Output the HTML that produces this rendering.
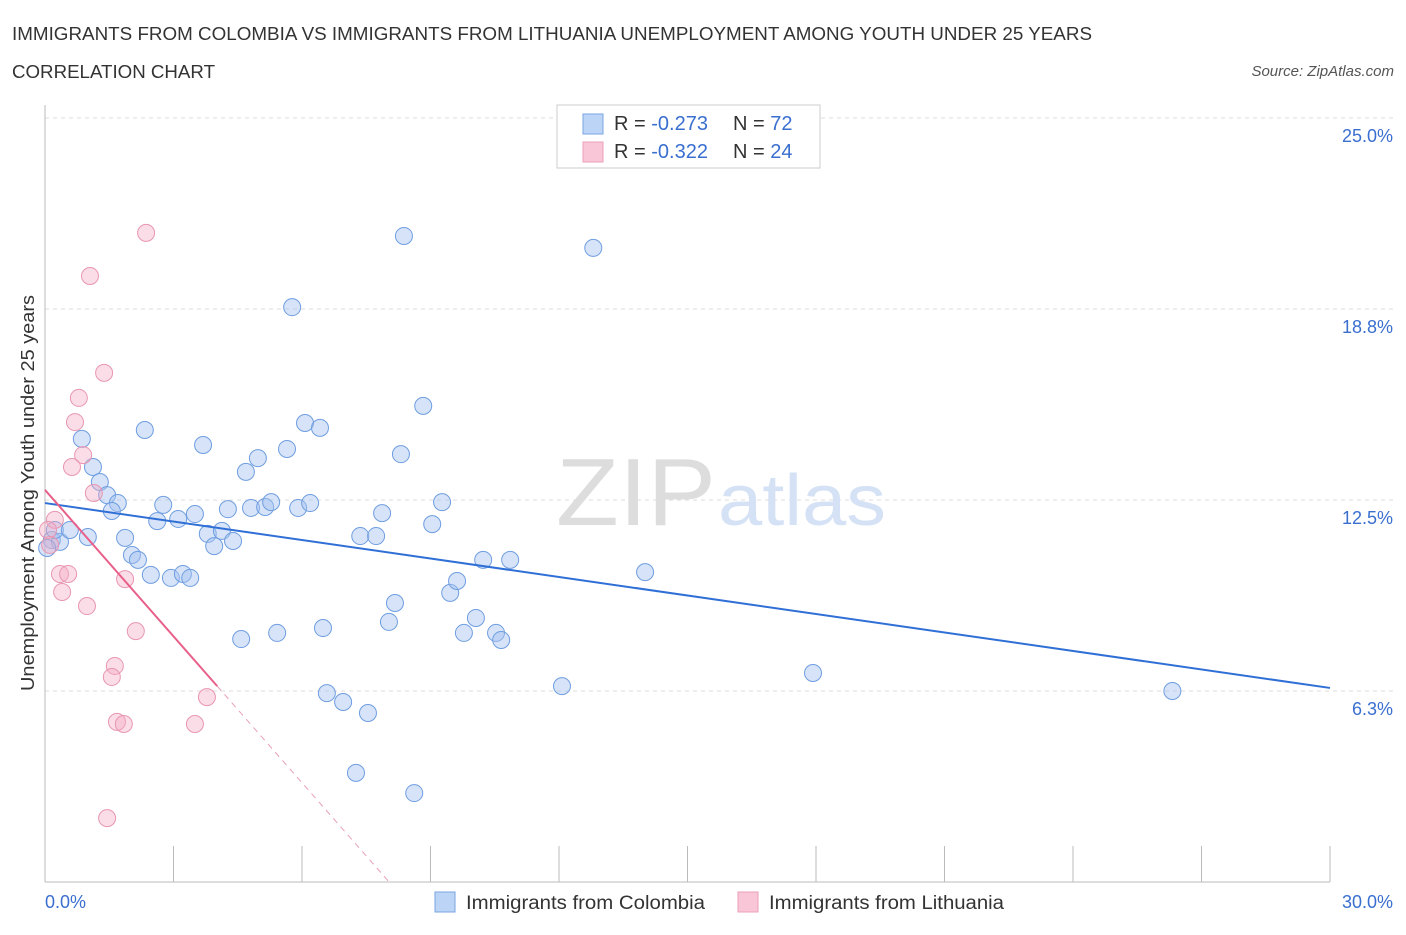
<!DOCTYPE html>
<html><head><meta charset="utf-8"><style>
body{margin:0;background:#fff;font-family:"Liberation Sans",sans-serif;}
svg text{font-family:"Liberation Sans",sans-serif;}
</style></head><body>
<svg id="chart" width="1406" height="930" xmlns="http://www.w3.org/2000/svg">
<text x="12" y="40" font-size="18" fill="#333" textLength="1080" lengthAdjust="spacingAndGlyphs">IMMIGRANTS FROM COLOMBIA VS IMMIGRANTS FROM LITHUANIA UNEMPLOYMENT AMONG YOUTH UNDER 25 YEARS</text>
<text x="12" y="78" font-size="18" fill="#333" textLength="203" lengthAdjust="spacingAndGlyphs">CORRELATION CHART</text>
<text x="1394" y="76" font-size="15" fill="#555" text-anchor="end" font-style="italic">Source: ZipAtlas.com</text>
<g id="grid"></g>
<g id="xticks"></g>
<text x="716" y="525" font-size="96" fill="#ddd" text-anchor="end" font-family="Liberation Serif" textLength="160" lengthAdjust="spacingAndGlyphs">ZIP</text>
<text x="718" y="525" font-size="72" fill="#d5e2f5" textLength="168" lengthAdjust="spacingAndGlyphs">atlas</text>
<g id="pts"></g>
<g id="trends"></g>
<text transform="translate(34,493) rotate(-90)" font-size="18" fill="#333" text-anchor="middle" textLength="396" lengthAdjust="spacingAndGlyphs">Unemployment Among Youth under 25 years</text>
<text x="45" y="908" font-size="18" fill="#3a6fd0">0.0%</text>
<text x="1393" y="908" font-size="18" fill="#3a6fd0" text-anchor="end">30.0%</text>
<g>
<rect x="557" y="105" width="263" height="63" fill="#fff" stroke="#ccc"/>
<rect x="583" y="114" width="20" height="20" fill="#bcd4f6" stroke="#7aa6e0"/>
<rect x="583" y="142" width="20" height="20" fill="#f8c6d6" stroke="#eba0b8"/>
<text x="614" y="130" font-size="20" fill="#333">R = <tspan fill="#3a6fd0">-0.273</tspan></text>
<text x="733" y="130" font-size="20" fill="#333">N = <tspan fill="#3a6fd0">72</tspan></text>
<text x="614" y="158" font-size="20" fill="#333">R = <tspan fill="#3a6fd0">-0.322</tspan></text>
<text x="733" y="158" font-size="20" fill="#333">N = <tspan fill="#3a6fd0">24</tspan></text>
</g>
<g>
<rect x="435" y="892" width="20" height="20" fill="#bcd4f6" stroke="#7aa6e0"/>
<text x="466" y="909" font-size="19" fill="#333" textLength="239" lengthAdjust="spacingAndGlyphs">Immigrants from Colombia</text>
<rect x="738" y="892" width="20" height="20" fill="#f8c6d6" stroke="#eba0b8"/>
<text x="769" y="909" font-size="19" fill="#333" textLength="235" lengthAdjust="spacingAndGlyphs">Immigrants from Lithuania</text>
</g>
</svg>
<script>
const yTicks=[6.25,12.5,18.75,25];
const yTickLabels=["6.3%","12.5%","18.8%","25.0%"];
const xTicks=[0,3,6,9,12,15,18,21,24,27,30];
const colombiaX=[0.16,0.35,0.23,0.58,1.00,0.86,1.12,1.28,1.45,1.70,1.56,1.87,2.03,2.17,2.33,2.47,2.62,2.76,2.94,3.11,3.22,3.39,3.50,3.69,3.80,3.95,4.13,4.27,4.39,4.58,4.69,4.81,4.97,5.14,5.28,5.42,5.65,5.77,5.91,6.07,6.19,6.42,6.49,6.58,6.96,7.26,7.36,7.54,7.73,7.87,8.03,8.17,8.31,8.38,8.62,8.83,9.04,9.27,9.46,9.62,9.78,10.06,10.23,10.53,10.65,10.86,12.07,12.80,14.01,17.93,26.32,0.05];
const colombiaY=[11.19,11.13,11.52,11.52,11.29,14.50,13.58,13.09,12.66,12.40,12.14,11.26,10.70,10.54,14.79,10.05,11.81,12.34,9.95,11.88,10.08,9.95,12.04,14.30,11.39,10.99,11.49,12.20,11.16,7.95,13.42,12.24,13.87,12.27,12.43,8.15,14.17,18.81,12.24,15.02,12.40,14.86,8.31,6.18,5.89,3.57,11.32,5.53,11.32,12.07,8.51,9.13,14.00,21.14,2.91,15.58,11.71,12.43,9.46,9.85,8.15,8.64,10.54,8.15,7.92,10.54,6.41,20.75,10.14,6.84,6.25,10.93];
const lithuaniaX=[2.36,1.05,1.38,0.79,0.70,0.89,0.63,1.14,0.23,0.07,0.12,0.35,0.54,0.40,0.98,1.87,2.12,1.63,1.56,1.68,1.84,3.50,3.78,1.45];
const lithuaniaY=[21.24,19.83,16.66,15.84,15.05,13.97,13.58,12.73,11.85,11.52,11.03,10.08,10.08,9.49,9.03,9.91,8.21,7.07,6.71,5.24,5.17,5.17,6.05,2.09];
const colombiaTrend=[12.40,6.35];
const lithuaniaTrend=[12.83,-1.597,4.02];
const NS="http://www.w3.org/2000/svg";
const X0=45,X1=1330,Yb=882,Yt=118;
function sx(v){return X0+v/30*(X1-X0);}
function sy(v){return Yb-v/25*(Yb-Yt);}
function mk(tag,attrs,parent){const e=document.createElementNS(NS,tag);for(const k in attrs)e.setAttribute(k,attrs[k]);parent.appendChild(e);return e;}
const grid=document.getElementById('grid');
yTicks.forEach((t,i)=>{
 const l=mk('line',{x1:X0,x2:1395,y1:sy(t),y2:sy(t),stroke:'#ddd','stroke-dasharray':'4,4'},grid);
 
 
 const tx=mk('text',{x:1393,y:sy(t)+24,'font-size':18,fill:'#3a6fd0','text-anchor':'end'},grid);
 tx.textContent=yTickLabels[i];
 
 
});
const ax=mk('line',{x1:X0,x2:X0,y1:105,y2:Yb,stroke:'#bbb'},grid);


const bx=mk('line',{x1:X0,x2:X1,y1:Yb,y2:Yb,stroke:'#bbb'},grid);


const xt=document.getElementById('xticks');
xTicks.forEach(t=>{
 const l=mk('line',{x1:sx(t),x2:sx(t),y1:Yb-36,y2:Yb,stroke:'#bbb'},xt);
 
 
});
const pts=document.getElementById('pts');
colombiaX.forEach((x,i)=>{
 const c=mk('circle',{cx:sx(x),cy:sy(colombiaY[i]),r:8.5,fill:'rgba(164,194,240,0.45)',stroke:'#6f9ee0','stroke-width':1},pts);
 
 
});
lithuaniaX.forEach((x,i)=>{
 const c=mk('circle',{cx:sx(x),cy:sy(lithuaniaY[i]),r:8.5,fill:'rgba(244,170,195,0.4)',stroke:'#e896b2','stroke-width':1},pts);
 
 
});
const tr=document.getElementById('trends');
const bl=mk('line',{x1:sx(0),y1:sy(colombiaTrend[0]),x2:sx(30),y2:sy(colombiaTrend[1]),stroke:'#2f6fd6','stroke-width':2},tr);


const [b0,b1,xe]=lithuaniaTrend;
const xz=-b0/b1;
const pl=mk('line',{x1:sx(0),y1:sy(b0),x2:sx(xe),y2:sy(b0+b1*xe),stroke:'#e8608a','stroke-width':2},tr);


const pd=mk('line',{x1:sx(xe),y1:sy(b0+b1*xe),x2:sx(xz),y2:sy(0),stroke:'#e8a0b8','stroke-width':1,'stroke-dasharray':'6,5'},tr);


</script>
</body></html>
